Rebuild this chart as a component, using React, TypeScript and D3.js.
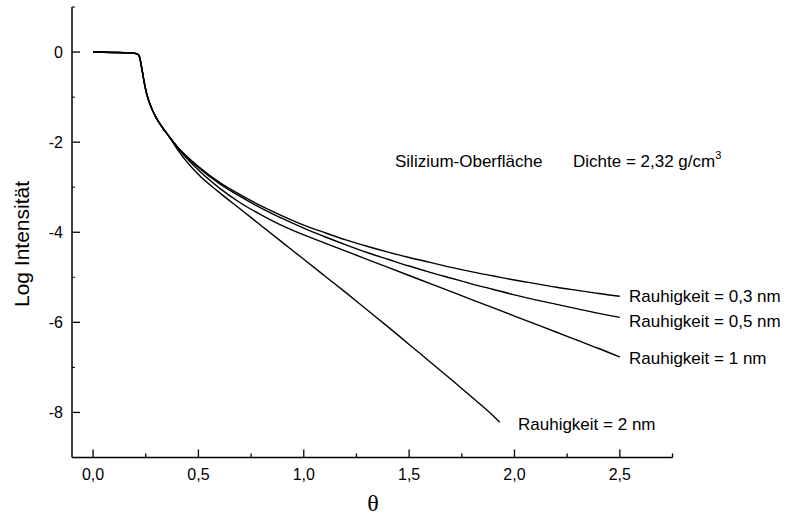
import React from "react";
import * as d3 from "d3";

const thetaEarly = [0, 0.05, 0.1, 0.15, 0.2, 0.21, 0.215, 0.22, 0.225, 0.23, 0.235, 0.24, 0.25, 0.26, 0.28, 0.3, 0.33, 0.36, 0.4];
const early = [0, -0.005, -0.01, -0.015, -0.03, -0.04, -0.06, -0.1, -0.2, -0.33, -0.46, -0.6, -0.84, -1.02, -1.27, -1.46, -1.68, -1.87];
const theta = [...thetaEarly,
  0.5, 0.6, 0.7, 0.8, 0.9, 1.0, 1.1, 1.2, 1.3, 1.4, 1.5, 1.6, 1.7, 1.8, 1.9, 2.0, 2.1, 2.2, 2.3, 2.4, 2.5];
const r03 = [...early, -2.10,
  -2.54, -2.89, -3.17, -3.42, -3.64, -3.84, -4.01, -4.17, -4.31, -4.44, -4.56, -4.67, -4.78, -4.88, -4.97, -5.06, -5.14, -5.22, -5.29, -5.36, -5.42];
const r05 = [...early, -2.11,
  -2.56, -2.92, -3.21, -3.47, -3.70, -3.91, -4.10, -4.28, -4.45, -4.60, -4.75, -4.89, -5.02, -5.15, -5.27, -5.39, -5.50, -5.60, -5.70, -5.80, -5.89];
const r1 = [...early, -2.12,
  -2.62, -3.02, -3.35, -3.62, -3.86, -4.06, -4.24, -4.42, -4.60, -4.78, -4.96, -5.14, -5.32, -5.50, -5.68, -5.86, -6.04, -6.22, -6.40, -6.58, -6.77];
const theta2 = [...thetaEarly,
  0.5, 0.6, 0.7, 0.8, 0.9, 1.0, 1.1, 1.2, 1.3, 1.4, 1.5, 1.6, 1.7, 1.8, 1.9, 1.93];
const r2 = [...early, -2.16,
  -2.72, -3.12, -3.49, -3.86, -4.23, -4.60, -4.97, -5.34, -5.72, -6.10, -6.49, -6.88, -7.27, -7.67, -8.08, -8.22];

const seriesLabels = ["Rauhigkeit = 0,3 nm", "Rauhigkeit = 0,5 nm", "Rauhigkeit = 1 nm", "Rauhigkeit = 2 nm"];

const xTicks = [0, 0.5, 1.0, 1.5, 2.0, 2.5];
const xTickLabels = ["0,0", "0,5", "1,0", "1,5", "2,0", "2,5"];
const xMinor = [0.25, 0.75, 1.25, 1.75, 2.25, 2.75];
const yTicks = [0, -2, -4, -6, -8];
const yTickLabels = ["0", "-2", "-4", "-6", "-8"];
const yMinor = [1, -1, -3, -5, -7, -9];

const W = 794, H = 517;
const x = d3.scaleLinear().domain([-0.1, 2.75]).range([72, 672.5]);
const y = d3.scaleLinear().domain([-9, 1]).range([457.5, 7]);

const font = "'Liberation Sans', Arial, sans-serif";

export default function App() {
  const line = d3.line<[number, number]>().x(d => x(d[0])).y(d => y(d[1])).curve(d3.curveMonotoneX);
  const series = [
    { t: theta, v: r03 },
    { t: theta, v: r05 },
    { t: theta, v: r1 },
    { t: theta2, v: r2 },
  ];
  const labelPos = [
    { lx: 629, ly: 302 },
    { lx: 629, ly: 327 },
    { lx: 629, ly: 364 },
    { lx: 518, ly: 430 },
  ];
  return (
    <svg width={W} height={H} style={{ position: "absolute", left: 0, top: 0, background: "#fff" }} fontFamily={font}>
      <rect x={0} y={0} width={W} height={H} fill="#fff" />
      {/* axes */}
      <line x1={x(-0.1)} x2={x(-0.1)} y1={y(1)} y2={y(-9)} stroke="#000" strokeWidth={1.5} />
      <line x1={x(-0.1)} x2={x(2.75)} y1={y(-9)} y2={y(-9)} stroke="#000" strokeWidth={1.5} />
      {xTicks.map((t, i) => (
        <g key={"xt" + i}>
          <line x1={x(t)} x2={x(t)} y1={y(-9)} y2={y(-9) - 8} stroke="#000" strokeWidth={1.3} />
          <text x={x(t)} y={480} textAnchor="middle" fontSize={16}>{xTickLabels[i]}</text>
        </g>
      ))}
      {xMinor.map((t, i) => (
        <line key={"xm" + i} x1={x(t)} x2={x(t)} y1={y(-9)} y2={y(-9) - 4} stroke="#000" strokeWidth={1.3} />
      ))}
      {yTicks.map((t, i) => (
        <g key={"yt" + i}>
          <line x1={x(-0.1)} x2={x(-0.1) + 8} y1={y(t)} y2={y(t)} stroke="#000" strokeWidth={1.3} />
          <text x={63} y={y(t) + 6} textAnchor="end" fontSize={16}>{yTickLabels[i]}</text>
        </g>
      ))}
      {yMinor.map((t, i) => (
        <line key={"ym" + i} x1={x(-0.1)} x2={x(-0.1) + 3} y1={y(t)} y2={y(t)} stroke="#000" strokeWidth={1} />
      ))}
      {/* axis titles */}
      <text transform="translate(29,244) rotate(-90)" textAnchor="middle" fontSize={21}>Log Intensität</text>
      <text x={373} y={511} textAnchor="middle" fontSize={24} fontFamily="'Liberation Serif', 'Times New Roman', serif">θ</text>
      {/* curves */}
      {series.map((s, i) => (
        <path key={"s" + i} d={line(s.t.map((t, j) => [t, s.v[j]] as [number, number])) || ""} fill="none" stroke="#000" strokeWidth={1.4} />
      ))}
      {/* labels */}
      {seriesLabels.map((l, i) => (
        <text key={"l" + i} x={labelPos[i].lx} y={labelPos[i].ly} fontSize={17}>{l}</text>
      ))}
      <text x={395} y={167} fontSize={17}>Silizium-Oberfläche</text>
      <text x={573} y={167} fontSize={17}>Dichte = 2,32 g/cm<tspan fontSize={11} dy={-8}>3</tspan></text>
    </svg>
  );
}
